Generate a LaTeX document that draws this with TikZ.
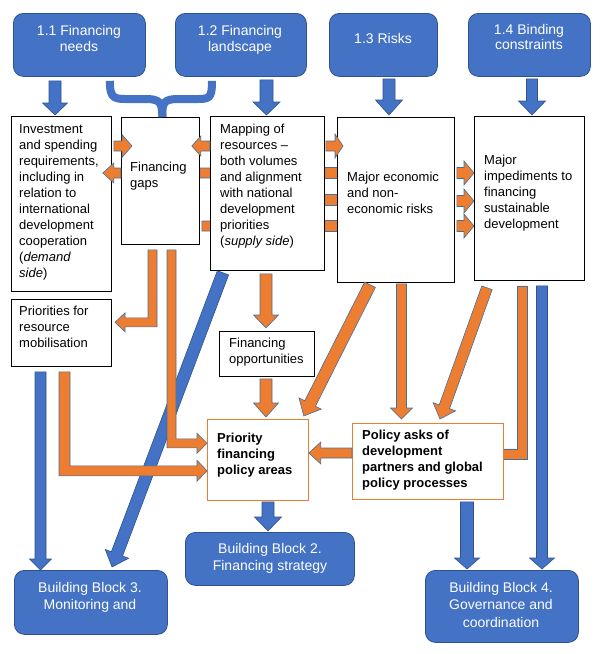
\documentclass[tikz,border=0pt]{standalone}
\usepackage{fontspec}
\setmainfont{Liberation Sans}
\usetikzlibrary{calc}
\definecolor{bfill}{HTML}{4472C4}
\definecolor{bline}{HTML}{2F528F}
\definecolor{ofill}{HTML}{ED7D31}
\definecolor{oline}{HTML}{41719C}
\pgfdeclarelayer{bg}
\pgfsetlayers{bg,main}
\newcommand\blk[6]{%
  \draw[#1] let \p1=#2, \p2=#3, \n1={atan2(\y2-\y1,\x2-\x1)}, \n2={veclen(\x2-\x1,\y2-\y1)} in
    [shift={(\p1)}, rotate=\n1]
    (0,#4) -- ({\n2-#6},#4) -- ({\n2-#6},#5) -- (\n2,0) -- ({\n2-#6},-#5) -- ({\n2-#6},-#4) -- (0,-#4) -- cycle;}
\tikzset{
  box/.style={draw=black, fill=white, line width=0.8pt, anchor=north west, inner sep=0pt},
  obox/.style={draw=ofill, fill=white, line width=0.8pt, anchor=north west, inner sep=0pt},
  bluebox/.style={draw=bline, fill=bfill, line width=0.8pt, rounded corners=10pt, anchor=north west, inner sep=0pt},
  txt/.style={anchor=north west, inner sep=0pt, align=left, font=\fontsize{13}{16}\selectfont},
  btxt/.style={anchor=north west, inner sep=0pt, align=left, font=\fontsize{13}{16}\selectfont\bfseries},
  wtxt/.style={anchor=north, inner sep=0pt, align=center, text=white, font=\fontsize{14}{16}\selectfont},
  wtxtb/.style={anchor=north, inner sep=0pt, align=center, text=white, font=\fontsize{14}{17.5}\selectfont},
  oarr/.style={fill=ofill, draw=oline, line width=0.6pt, line join=miter},
  barr/.style={fill=bfill, draw=bline, line width=0.6pt, line join=miter},
  bracestyle/.style={draw=bfill, line width=8pt}
}
\begin{document}
\begin{tikzpicture}[x=1pt,y=-1pt]
\useasboundingbox (0,0) rectangle (602,654);
% top boxes
\node[bluebox, minimum width=132pt, minimum height=63pt] (b11) at (13,13) {};
\node[bluebox, minimum width=131pt, minimum height=63pt] (b12) at (175,13) {};
\node[bluebox, minimum width=108pt, minimum height=63pt] (b13) at (329,13) {};
\node[bluebox, minimum width=122pt, minimum height=63pt] (b14) at (468,13) {};
% second row
\node[box, minimum width=100pt, minimum height=175pt] (inv) at (11,116) {};
\node[box, minimum width=78pt, minimum height=127pt] (gaps) at (121,117) {};
\node[box, minimum width=114pt, minimum height=154pt] (map) at (210,116) {};
\node[box, minimum width=117pt, minimum height=165pt] (econ) at (337,117) {};
\node[box, minimum width=110pt, minimum height=164pt] (imp) at (474,116) {};
% third row
\node[box, minimum width=100pt, minimum height=67pt] (prio) at (11,299) {};
\node[box, minimum width=95pt, minimum height=45pt] (opp) at (219,331) {};
\node[obox, minimum width=101pt, minimum height=81pt] (pfa) at (207,419) {};
\node[obox, minimum width=151pt, minimum height=76pt] (ask) at (352,423) {};
% building blocks
\node[bluebox, minimum width=169pt, minimum height=53pt] (bb2) at (185,532) {};
\node[bluebox, minimum width=153pt, minimum height=64pt] (bb3) at (14,570) {};
\node[bluebox, minimum width=153pt, minimum height=72pt] (bb4) at (425,570) {};

% hidden arrows behind boxes
\begin{pgfonlayer}{bg}
\blk{oarr}{($(gaps.north east)+(0,56)$)}{($(map.north west)+(25,57)$)}{5}{11}{11}
\blk{oarr}{($(gaps.north east)+(2,109)$)}{($(map.north west)+(25,110)$)}{5}{11}{11}
\blk{oarr}{($(map.north east)+(0,57)$)}{($(econ.north west)+(23,56)$)}{5.5}{12}{10}
\blk{oarr}{($(map.north east)+(0,84)$)}{($(econ.north west)+(23,83)$)}{5.5}{12}{10}
\blk{oarr}{($(map.north east)+(0,110)$)}{($(econ.north west)+(23,109)$)}{5.5}{12}{10}
\draw[oarr] ($(imp.south west)+(43,5)$) -- ++(10,0) -- ++(0,173) -- ++(-35,0) -- ++(0,-10) -- ++(25,0) -- cycle;
\end{pgfonlayer}

% brace
\draw[bracestyle] ($(b11.south east)+(-36,4)$) .. controls ++(0,19) and (115,99) .. (130,99) -- (145,99) .. controls (160,99) and (162,102) .. ($(gaps.north)+(2,0)$);
\draw[bracestyle] ($(b12.south west)+(37,4)$) .. controls ++(0,19) and (209,99) .. (194,99) -- (179,99) .. controls (164,99) and (162,102) .. ($(gaps.north)+(2,0)$);

% blue arrows
\blk{barr}{($(b11.south west)+(42,4)$)}{($(inv.north west)+(44,-1)$)}{6}{12.5}{12}
\blk{barr}{($(b12.south west)+(91.5,3)$)}{($(map.north west)+(56.5,-1)$)}{6.5}{13.5}{13}
\blk{barr}{($(b13.south west)+(60,2)$)}{($(econ.north west)+(52,-2)$)}{6}{13.5}{15}
\blk{barr}{($(b14.south west)+(64,2)$)}{($(imp.north west)+(58,-1)$)}{5.5}{13.5}{14}
\blk{barr}{($(prio.south west)+(29.5,5)$)}{($(bb3.north west)+(26.5,0)$)}{5.5}{11}{11}
\blk{barr}{($(map.south west)+(13,2)$)}{($(bb3.north west)+(98,-3)$)}{6}{12.5}{14}
\blk{barr}{($(pfa.south west)+(61,1)$)}{($(bb2.north west)+(83,-1)$)}{6}{13.5}{14}
\blk{barr}{($(ask.south west)+(115,2)$)}{($(bb4.north west)+(42,-1)$)}{6.5}{12.5}{11}
\blk{barr}{($(imp.south west)+(68,5)$)}{($(bb4.north west)+(117,-1)$)}{5.5}{12.5}{11}

% orange arrows
\blk{oarr}{($(inv.north east)+(2,30)$)}{($(gaps.north west)+(11,29)$)}{5}{11.5}{10}
\blk{oarr}{($(gaps.north west)+(0,56)$)}{($(inv.north east)+(-9,57)$)}{5}{10}{11}
\blk{oarr}{($(map.north west)+(0,30)$)}{($(gaps.north east)+(-8,29)$)}{5}{10}{9}
\blk{oarr}{($(map.north east)+(1,30)$)}{($(econ.north west)+(6,29)$)}{5}{12}{8}
\blk{oarr}{($(econ.north east)+(2,56)$)}{($(imp.north west)+(0,57)$)}{5.5}{12}{10}
\blk{oarr}{($(econ.north east)+(2,84)$)}{($(imp.north west)+(0,85)$)}{5.5}{12}{10}
\blk{oarr}{($(econ.north east)+(2,109)$)}{($(imp.north west)+(0,110)$)}{5.5}{12}{10}
\blk{oarr}{($(map.south west)+(56,3)$)}{($(opp.north west)+(47,-3)$)}{6}{12.5}{13}
\blk{oarr}{($(opp.south west)+(47,2)$)}{($(pfa.north west)+(59,-2)$)}{6}{12.5}{14}
\blk{oarr}{($(econ.south west)+(33,2)$)}{($(pfa.north east)+(-5,-3)$)}{6}{12.5}{14}
\blk{oarr}{($(econ.south west)+(64.5,1)$)}{($(ask.north west)+(49.5,-4)$)}{5}{11}{11}
\blk{oarr}{($(imp.south west)+(13,7)$)}{($(ask.north west)+(88,-4)$)}{5.5}{12}{13}
\blk{oarr}{($(ask.north west)+(0,30)$)}{($(pfa.north east)+(0,34)$)}{5}{11}{12}
\draw[oarr] ($(gaps.south west)+(27,5)$) -- ++(9,0) -- ++(0,77) -- ++(-32,0) -- ++(0,5) -- ++(-10,-9.5) -- ++(10,-9.5) -- ++(0,5) -- ++(23,0) -- cycle;
\draw[oarr] ($(gaps.south west)+(46,5)$) -- ++(9,0) -- ++(0,189) -- ++(21,0) -- ++(0,-5.5) -- ++(10,10) -- ++(-10,10) -- ++(0,-5.5) -- ++(-30,0) -- cycle;
\draw[oarr] ($(prio.south west)+(48,5)$) -- ++(11,0) -- ++(0,94) -- ++(127,0) -- ++(0,-5.5) -- ++(10,10.5) -- ++(-10,10.5) -- ++(0,-5.5) -- ++(-138,0) -- cycle;

% texts
\node[wtxt] (t11) at (79,24) {\rule{0pt}{11pt}1.1 Financing\\needs};
\node[wtxt] (t12) at (240,24) {\rule{0pt}{11pt}1.2 Financing\\landscape};
\node[wtxt] (t13) at (383,32) {\rule{0pt}{11pt}1.3 Risks};
\node[wtxt, font=\fontsize{14}{15}\selectfont] (t14) at (529,23) {\rule{0pt}{11pt}1.4 Binding\\constraints};
\node[txt] (tinv) at (19,123) {\rule{0pt}{10pt}Investment\\and spending\\requirements,\\including in\\relation to\\international\\development\\cooperation\\(\textit{demand}\\\textit{side})};
\node[txt] (tgaps) at (130,161) {\rule{0pt}{10pt}Financing\\gaps};
\node[txt] (tmap) at (220,123) {\rule{0pt}{10pt}Mapping of\\resources –\\both volumes\\and alignment\\with national\\development\\priorities\\(\textit{supply side})};
\node[txt] (tecon) at (347,171) {\rule{0pt}{10pt}Major economic\\and non-\\economic risks};
\node[txt] (timp) at (484,154) {\rule{0pt}{10pt}Major\\impediments to\\financing\\sustainable\\development};
\node[txt] (tprio) at (19,305) {\rule{0pt}{10pt}Priorities for\\resource\\mobilisation};
\node[txt] (topp) at (229,337) {\rule{0pt}{10pt}Financing\\opportunities};
\node[btxt] (tpfa) at (217,432) {\rule{0pt}{10pt}Priority\\financing\\policy areas};
\node[btxt] (task) at (362,429) {\rule{0pt}{10pt}Policy asks of\\development\\partners and global\\policy processes};
\node[wtxtb] (tbb2) at (270,542) {\rule{0pt}{11pt}Building Block 2.\\Financing strategy};
\node[wtxtb] (tbb3) at (90,581) {\rule{0pt}{11pt}Building Block 3.\\Monitoring and};
\node[wtxtb] (tbb4) at (501,581) {\rule{0pt}{11pt}Building Block 4.\\Governance and\\coordination};
\end{tikzpicture}
\end{document}
